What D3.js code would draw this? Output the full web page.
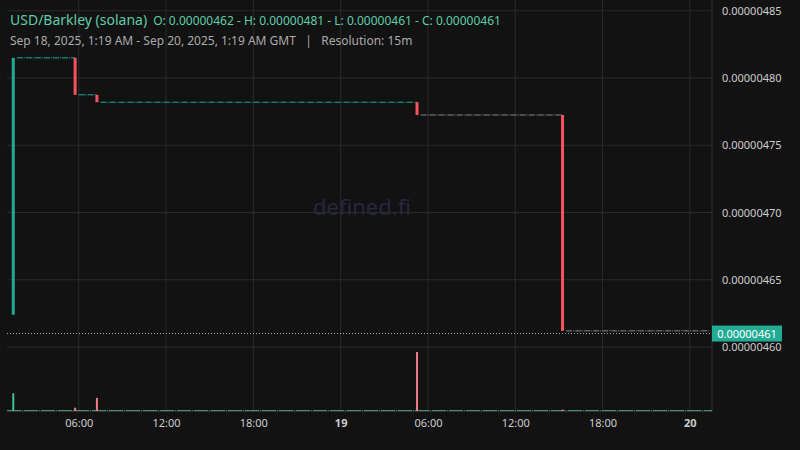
<!DOCTYPE html>
<html><head><meta charset="utf-8">
<script src="https://cdn.jsdelivr.net/npm/d3@7"></script>
<style>body{margin:0;background:#121212}svg{display:block}text{font-family:"Noto Sans",sans-serif}</style>
</head><body><svg id="c" width="800" height="450"></svg>
<script>
// price-changing 15m candles (time, open, close, volume)
const candleTimes = ["2025-09-18T01:30", "2025-09-18T05:45", "2025-09-18T07:15", "2025-09-19T05:15", "2025-09-19T15:15"];
const opens   = [4.624, 4.815, 4.7875, 4.782, 4.7725];
const closes  = [4.815, 4.7875, 4.782, 4.7725, 4.612];
const volumes = [27, 5, 20, 90, 2];
// flat stretches between changes (from, to, price, colour)
const flatFrom  = ["2025-09-18T01:45", "2025-09-18T06:00", "2025-09-18T07:30", "2025-09-19T05:30", "2025-09-19T15:30"];
const flatTo    = ["2025-09-18T05:45", "2025-09-18T07:15", "2025-09-19T05:15", "2025-09-19T15:15", "2025-09-20T01:19"];
const flatPrice = [4.815, 4.7875, 4.782, 4.7725, 4.612];
const flatUp    = [true, true, true, false, false];
const priceTicks = [4.60, 4.65, 4.70, 4.75, 4.80, 4.85];
const lastPrice = 4.61;

const svg = d3.select('#c');
const W = 712, parse = d3.utcParse('%Y-%m-%dT%H:%M');
const x = d3.scaleUtc().domain([parse('2025-09-18T01:19'), parse('2025-09-20T01:19')]).range([10.6, 709]);
const y = d3.scaleLinear().domain([4.60, 4.80]).range([347, 78]);
const yv = d3.scaleLinear().domain([0, 90]).range([411, 352]);
const up = '#22ab94', down = '#f7525f';

// grid
const times = d3.utcHour.every(6).range(parse('2025-09-18T06:00'), parse('2025-09-20T01:00'));
svg.append('g').selectAll('line').data(times).join('line')
  .attr('x1', d => x(d)).attr('x2', d => x(d)).attr('y1', 0).attr('y2', 411)
  .attr('stroke', '#2a2a2a');
svg.append('g').selectAll('line').data(priceTicks).join('line')
  .attr('x1', 7).attr('x2', W).attr('y1', d => y(d)).attr('y2', d => y(d))
  .attr('stroke', '#2a2a2a');
svg.append('line').attr('x1', W).attr('x2', W).attr('y1', 0).attr('y2', 412).attr('stroke', '#333');
svg.append('line').attr('x1', 7).attr('x2', W).attr('y1', 411.5).attr('y2', 411.5).attr('stroke', '#333');

// watermark
svg.append('text').attr('x', 362).attr('y', 215).attr('text-anchor', 'middle')
  .attr('font-size', 22).attr('fill', '#262640').text('defined.fi');

// flat segments
svg.append('g').selectAll('line').data(flatFrom).join('line')
  .attr('x1', (d, i) => x(parse(d))).attr('x2', (d, i) => x(parse(flatTo[i])))
  .attr('y1', (d, i) => y(flatPrice[i])).attr('y2', (d, i) => y(flatPrice[i]))
  .attr('stroke', (d, i) => flatUp[i] ? up : '#888').attr('stroke-width', 1)
  .attr('stroke-dasharray', '6,1,1,1');

// candles
svg.append('g').selectAll('rect').data(candleTimes).join('rect')
  .attr('x', d => x(parse(d)) - 1.5).attr('width', 3)
  .attr('y', (d, i) => y(Math.max(opens[i], closes[i])))
  .attr('height', (d, i) => Math.abs(y(opens[i]) - y(closes[i])))
  .attr('fill', (d, i) => closes[i] >= opens[i] ? up : down);

// volume
svg.append('line').attr('x1', 7).attr('x2', W).attr('y1', 410.5).attr('y2', 410.5)
  .attr('stroke', '#5fbfa0').attr('stroke-dasharray', '14,1,1,1').attr('opacity', 0.7);
svg.append('g').selectAll('rect').data(candleTimes).join('rect')
  .attr('x', d => x(parse(d)) - 1).attr('width', 2)
  .attr('y', (d, i) => yv(volumes[i])).attr('height', (d, i) => 411 - yv(volumes[i]))
  .attr('fill', (d, i) => closes[i] >= opens[i] ? '#3fbf9a' : '#f27a8a');

// last price line
svg.append('line').attr('x1', 7).attr('x2', W).attr('y1', y(lastPrice)).attr('y2', y(lastPrice))
  .attr('stroke', '#aaa').attr('stroke-dasharray', '1,2');
svg.append('rect').attr('x', W).attr('y', y(lastPrice) - 8).attr('width', 70).attr('height', 16).attr('fill', up);
svg.append('text').attr('x', W + 35).attr('y', y(lastPrice) + 4).attr('text-anchor', 'middle')
  .attr('font-size', 11).attr('fill', '#fff').text('0.00000461');

// price axis
svg.append('g').attr('transform', `translate(${W},0)`)
  .call(d3.axisRight(y).tickValues(priceTicks).tickSize(0).tickPadding(10).tickFormat(d => '0.00000' + (d * 100).toFixed(0)))
  .call(g => g.select('.domain').remove())
  .call(g => g.selectAll('text').attr('fill', '#ccc').attr('font-size', 11).attr('font-family', '"Noto Sans",sans-serif'));

// time axis
svg.append('g').attr('transform', 'translate(0,411)')
  .call(d3.axisBottom(x).tickValues(times).tickSize(0).tickPadding(8)
    .tickFormat(d => d.getUTCHours() === 0 ? d3.utcFormat('%-d')(d) : d3.utcFormat('%H:%M')(d)))
  .call(g => g.select('.domain').remove())
  .call(g => g.selectAll('text').attr('fill', '#ccc').attr('font-size', 11).attr('font-family', '"Noto Sans",sans-serif')
    .attr('font-weight', d => d.getUTCHours() === 0 ? 'bold' : null));

// header
svg.append('text').attr('x', 10).attr('y', 25).attr('fill', '#5fcca8')
  .call(t => t.append('tspan').attr('font-size', 14).text('USD/Barkley (solana)'))
  .call(t => t.append('tspan').attr('dx', 6).attr('font-size', 12)
    .text('O: 0.00000462 - H: 0.00000481 - L: 0.00000461 - C: 0.00000461'));
svg.append('text').attr('x', 10).attr('y', 45).attr('fill', '#aaa').attr('font-size', 12)
  .text('Sep 18, 2025, 1:19 AM - Sep 20, 2025, 1:19 AM GMT   |   Resolution: 15m').attr('xml:space', 'preserve');
</script></body></html>
